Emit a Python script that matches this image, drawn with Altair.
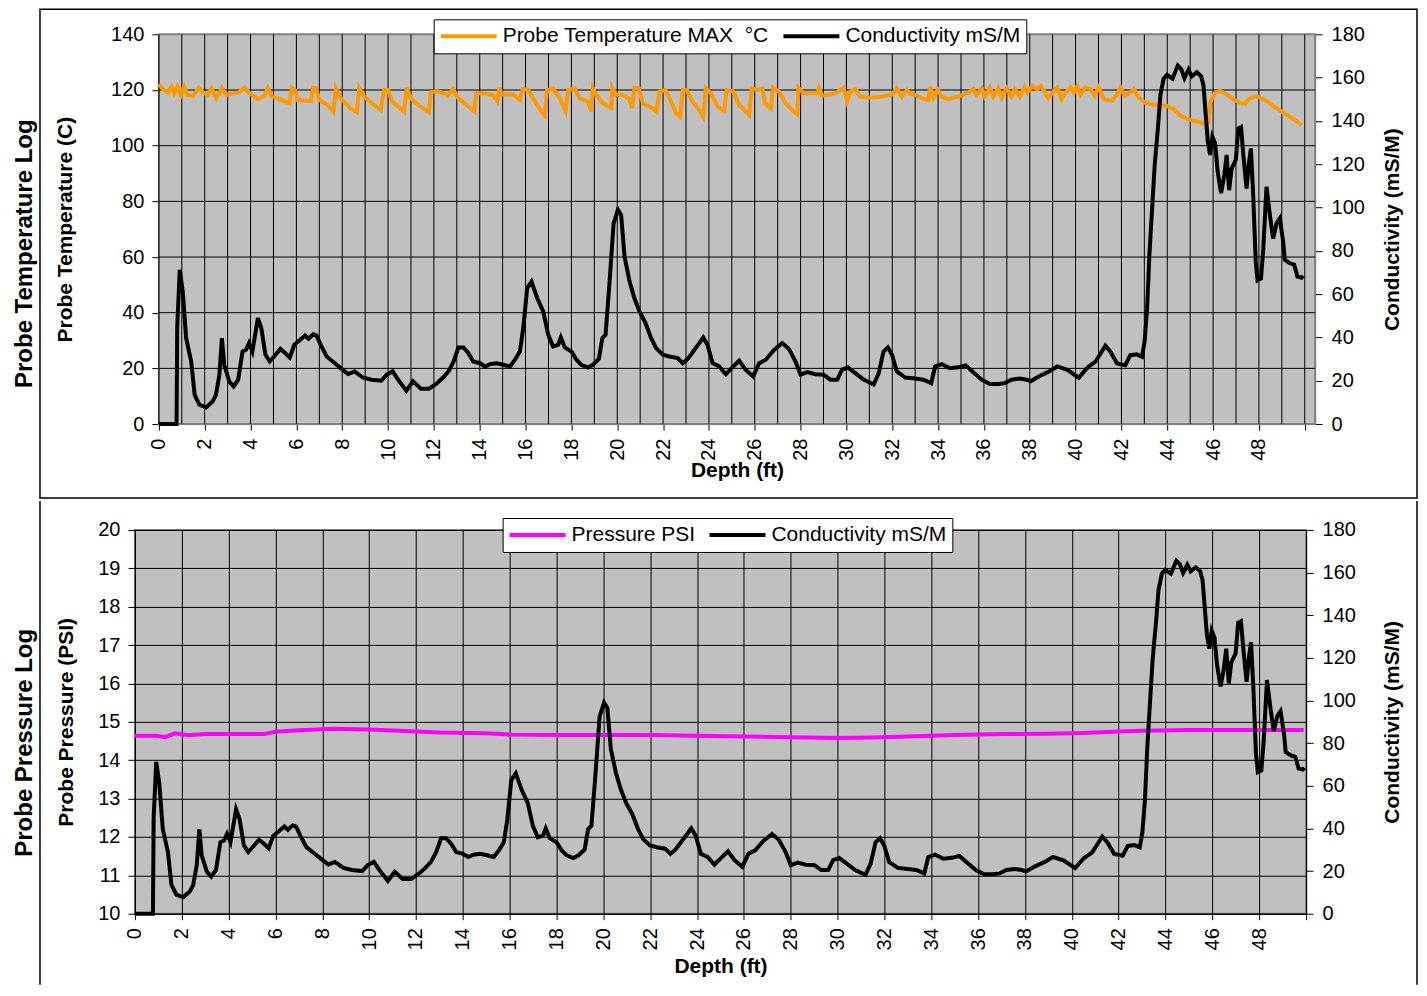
import altair as alt
import pandas as pd

FONT = "Liberation Sans"

TEMP_NAME = "Probe Temperature MAX\u00a0 \u00b0C"
COND_NAME = "Conductivity mS/M"
PRES_NAME = "Pressure PSI"

depth_ticks = list(range(0, 51))
temp_ticks = list(range(0, 141, 20))
cond_ticks = list(range(0, 181, 20))
pres_ticks = list(range(10, 21))

cond_depth = [0, 0.77, 0.8, 0.91, 1.04, 1.19, 1.41, 1.56, 1.77, 2.06, 2.35, 2.49, 2.64, 2.75, 2.85, 3.07,
              3.26, 3.46, 3.65, 3.8, 3.93, 4.08, 4.32, 4.47, 4.65, 4.84, 5.09, 5.3, 5.52, 5.71, 5.91, 6.17,
              6.38, 6.53, 6.74, 6.88, 7.06, 7.32, 7.68, 7.97, 8.26, 8.54, 8.9, 9.27, 9.7, 9.94, 10.2, 10.49,
              10.8, 11.09, 11.43, 11.79, 12.1, 12.4, 12.64, 12.86, 13.07, 13.29, 13.5, 13.72, 14.01, 14.23,
              14.45, 14.74, 15.03, 15.32, 15.54, 15.75, 15.9, 16.07, 16.26, 16.51, 16.77, 16.99, 17.2, 17.42,
              17.54, 17.71, 18.0, 18.22, 18.43, 18.72, 18.94, 19.2, 19.35, 19.49, 19.67, 19.84, 20.03, 20.17,
              20.32, 20.54, 20.75, 20.97, 21.23, 21.48, 21.7, 21.99, 22.28, 22.64, 22.86, 23.07, 23.36, 23.58,
              23.75, 23.94, 24.16, 24.45, 24.74, 24.92, 25.32, 25.6, 25.93, 26.19, 26.48, 26.84, 27.2, 27.49,
              27.78, 28.0, 28.29, 28.65, 29.01, 29.3, 29.6, 29.81, 30.07, 30.39, 30.75, 31.19, 31.41, 31.62,
              31.81, 31.99, 32.2, 32.57, 33.0, 33.36, 33.7, 33.87, 34.16, 34.52, 34.88, 35.2, 35.46, 35.9,
              36.26, 36.62, 36.91, 37.2, 37.57, 37.86, 38.04, 38.41, 38.84, 39.2, 39.64, 40.14, 40.51, 40.87,
              41.09, 41.3, 41.52, 41.81, 42.17, 42.39, 42.68, 42.9, 43.01, 43.12, 43.22, 43.33, 43.45, 43.59,
              43.7, 43.84, 43.99, 44.23, 44.46, 44.61, 44.75, 44.93, 45.07, 45.29, 45.48, 45.58, 45.68, 45.77,
              45.87, 45.97, 46.09, 46.2, 46.35, 46.49, 46.59, 46.7, 46.81, 46.99, 47.1, 47.22, 47.32, 47.46,
              47.57, 47.65, 47.75, 47.86, 47.94, 48.09, 48.19, 48.33, 48.48, 48.62, 48.77, 48.91, 49.06, 49.13,
              49.35, 49.54, 49.68, 49.86, 49.93]
cond_value = [0, 0, 45, 71.2, 61.2, 39.7, 28.9, 13.5, 8.9, 7.7, 10.5, 13.5, 22.8, 39.7, 27.4, 19.7,
              17.4, 20.5, 33.5, 34.3, 37.4, 33.5, 48.9, 44.3, 32, 28.9, 32, 34.7, 32.7, 30.7, 36.6, 38.9,
              40.9, 39.4, 41.5, 40.9, 36.6, 31.2, 28.1, 25.5, 23.1, 24.3, 21.5, 20.5, 20, 22.8, 24.3, 19.7,
              15.4, 19.7, 16.3, 16.3, 18.5, 21.5, 24.3, 28.9, 35.4, 35.4, 32.8, 28.9, 28.1, 26.6,
              27.7, 28.1, 27.4, 26.6, 29.7, 33.5, 44.3, 62.7, 65.8, 58.1, 52, 41.2, 35.8, 36.6,
              40, 35.4, 33.5, 29.7, 27.4, 26.1, 27.4, 30.1, 39.7, 41.2, 66.5, 92.6, 99, 96.5,
              77.2, 65.8, 58.1, 52, 46.8, 39.7, 35, 32, 31.2, 30.5, 28.1, 30, 34.2, 37.4,
              40, 36.6, 28.1, 26.6, 23, 25, 29.3, 25.1, 22, 28.1, 29.7, 34.2, 37.4, 34.7,
              28.9, 22.8, 24, 23, 22.8, 20.5, 20.5, 25.1, 26.1, 23.5, 20.5, 18.2, 23.5, 33.5,
              35.4, 32, 24.3, 21.5, 21, 20.5, 18.9, 26.6, 27.7, 25.8, 26.2, 27.1, 24.6, 20.5,
              18.5, 18.5, 18.9, 20.5, 21, 20.5, 19.8, 22.1, 24.3, 26.6, 25, 21.4, 26, 28.8,
              32.6, 36.2, 33.4, 28, 27.2, 31.8, 32.2, 31.1, 38, 53.3, 77.9, 97.9, 119.4, 136.4,
              151.8, 159.5, 161.3, 159.5, 165.6, 164, 159.8, 163.7, 160.6, 162.5, 160.6, 156.5, 142.7, 130.4,
              124.3, 132.7, 129.6, 116.6, 106.6, 115, 124.3, 108, 118, 122, 136.5, 137.2, 124.3, 108.8,
              121, 127.3, 105.8, 75.1, 66.4, 67.2, 81, 109.6, 96.4, 85.7, 92.7, 95, 84.1, 75.8,
              74.3, 73.6, 68.1, 67.6, 68.5]

temp_depth = [0, 0.19, 0.4, 0.55, 0.67, 0.81, 0.96, 1.1, 1.25, 1.49, 1.74, 1.93, 2.12, 2.29, 2.51, 2.75,
              2.94, 3.23, 3.48, 3.74, 3.96, 4.32, 4.61, 4.75, 4.93, 5.19, 5.7, 5.8, 5.94, 6.06, 6.64, 6.72,
              6.86, 7.0, 7.36, 7.62, 7.72, 7.94, 8.35, 8.64, 8.74, 8.96, 9.39, 9.68, 9.83, 10.0, 10.19, 10.7,
              10.81, 10.99, 11.42, 11.78, 11.86, 12.14, 12.43, 12.6, 12.83, 13.07, 13.43, 13.77, 13.84, 14.16,
              14.59, 14.77, 14.86, 14.96, 15.46, 15.75, 15.87, 16.12, 16.41, 16.7, 16.84, 16.94, 17.2, 17.49,
              17.75, 17.86, 18.14, 18.36, 18.72, 18.87, 18.94, 19.09, 19.38, 19.74, 19.78, 19.96, 20.25, 20.54,
              20.65, 20.75, 20.94, 21.12, 21.55, 21.72, 21.84, 22.1, 22.35, 22.57, 22.74, 22.86, 23.03, 23.29,
              23.58, 23.75, 23.87, 24.09, 24.38, 24.67, 24.77, 25.03, 25.1, 25.32, 25.61, 25.75, 25.87, 26.12,
              26.33, 26.45, 26.7, 26.8, 27.06, 27.35, 27.71, 27.86, 27.9, 28.14, 28.72, 28.8, 28.94, 29.52,
              29.88, 30.03, 30.17, 30.39, 30.61, 30.97, 31.55, 31.99, 32.2, 32.42, 32.64, 32.78, 33.0, 33.29,
              33.58, 33.65, 33.8, 33.99, 34.16, 34.45, 34.88, 35.32, 35.54, 35.68, 35.9, 36.04, 36.26, 36.41,
              36.62, 36.77, 36.99, 37.2, 37.35, 37.57, 37.78, 37.9, 38.12, 38.33, 38.48, 38.62, 38.81, 38.99,
              39.2, 39.39, 39.57, 39.78, 39.93, 40.07, 40.22, 40.43, 40.65, 40.84, 41.01, 41.23, 41.59, 41.81,
              41.96, 42.14, 42.39, 42.54, 42.75, 43.01, 43.33, 43.62, 43.99, 44.28, 44.57, 44.86, 45.14, 45.43,
              45.65, 45.8, 45.87, 46.09, 46.3, 46.59, 46.88, 47.17, 47.39, 47.54, 47.83, 48.04, 48.33, 48.62,
              48.99, 49.28, 49.57, 49.86]
temp_value = [122, 120.3, 119.1, 121.2, 118.8, 121.2, 118.2, 121.2, 118.2, 117.9, 120.8, 119.1, 118.2, 120.6, 117, 120.8,
              118.2, 118.8, 119.1, 120.8, 118.8, 116.7, 117.9, 120.8, 117.6, 117, 115.2, 120.8, 120, 116.4, 116, 120.8,
              120.6, 116.4, 114.6, 112.2, 120.6, 117, 113.4, 112, 120.8, 117.6, 114.6, 112.8, 120, 120, 115.8, 112.2,
              120.8, 117, 114, 112, 119.1, 119.6, 118.8, 118, 120.3, 117, 114.6, 112.2, 118.8, 118.8,
              118.2, 116, 120.8, 118.4, 118.4, 116.4, 120.3, 120, 115.8, 112.2, 110.8, 120, 120.6, 117,
              112.4, 120, 120.6, 117, 116, 112.2, 120.6, 118.2, 115.2, 113.6, 120.8, 118.2, 118.2, 116.7,
              113.4, 120.8, 120.6, 115.2, 113.4, 112.2, 119.4, 120, 115.8, 111.6, 110.4, 120, 120, 115.8,
              112.8, 110.4, 120.6, 118.8, 114, 112.4, 120, 119.6, 118.8, 114.6, 112.4, 111, 120.6, 120,
              120.6, 115.2, 113.4, 120.8, 119.4, 115.2, 112.2, 111.2, 120.8, 118.8, 118.8, 120.8, 117.9, 118.8,
              120.8, 116, 119.4, 120.3, 117.6, 117.2, 117.6, 118.4, 120.6, 117.6, 120, 118.8, 118.2, 117,
              116.4, 121.2, 117.2, 120, 117.6, 116.7, 117.6, 119.1, 120.3, 118.2, 120.6, 117.6, 120.8, 117.6,
              120.6, 117.2, 120.6, 117.6, 120.3, 117.6, 121.2, 119.1, 121.5, 120.3, 121.5, 119.7, 117, 119.1,
              120.9, 116.7, 119.1, 120.9, 119.1, 121.3, 118.2, 120.9, 120.3, 117.9, 120.9, 116.7, 116.1, 118.5,
              120.9, 117.9, 119.1, 120.3, 117.3, 115.5, 114.9, 114.6, 114.3, 113.1, 110.8, 109.6, 109, 108.4,
              107.8, 108.4, 115.5, 119.1, 119.7, 118.5, 116.7, 115.5, 114.9, 116.7, 117.7, 117.3, 116.1, 114.3,
              112.2, 110.8, 109.3, 107.4]

pres_depth = [0, 0.9, 1.3, 1.7, 2.3, 3.0, 4.0, 5.5, 6.0, 7.0, 8.5, 10.0, 11.5, 13.0, 15.0, 16.0, 18.0, 20.0,
              22.0, 24.0, 26.0, 28.0, 30.0, 31.5, 33.0, 35.0, 37.0, 39.0, 40.5, 42.0, 43.0, 45.0, 47.0, 49.9]
pres_value = [14.64, 14.64, 14.6, 14.7, 14.65, 14.68, 14.68, 14.68, 14.74, 14.78, 14.82, 14.8, 14.76, 14.72,
              14.7, 14.67, 14.66, 14.66, 14.66, 14.64, 14.62, 14.6, 14.58, 14.59, 14.62, 14.66, 14.68, 14.69,
              14.71, 14.75, 14.77, 14.79, 14.79, 14.79]

cond_df = pd.DataFrame({"depth": cond_depth, "value": cond_value, "series": COND_NAME})
temp_df = pd.DataFrame({"depth": temp_depth, "value": temp_value, "series": TEMP_NAME})
pres_df = pd.DataFrame({"depth": pres_depth, "value": pres_value, "series": PRES_NAME})
vgrid_df = pd.DataFrame({"depth": depth_ticks})
hgrid_df = pd.DataFrame({"t": temp_ticks[1:-1]})

LABEL_EXPR = "datum.value % 2 == 0 && datum.value <= 48 ? datum.label : ''"
LW = 4


def x_axis(title_y, grid):
    return alt.Axis(values=depth_ticks, labelExpr=LABEL_EXPR, format="d", labelAngle=-90,
                    labelFontSize=20, labelPadding=8, labelOverlap=False, tickSize=6,
                    tickColor="black", domainColor="black", grid=grid, gridColor="black",
                    gridWidth=1, title="Depth (ft)", titleY=title_y, titleBaseline="top",
                    titleFontSize=21, titleFontWeight="bold")


def legend(x, y):
    return alt.Legend(title=None, orient="none", legendX=x, legendY=y, direction="horizontal",
                      symbolType="stroke", symbolStrokeWidth=4, symbolSize=3136, clipHeight=24,
                      labelFontSize=21, labelOffset=4, columnPadding=12, padding=5, labelLimit=500,
                      fillColor="white", strokeColor="black", labelColor="black")


one_row = alt.Data(values=[{"k": 0}])

# ---------- top panel (view origin shared with the bottom panel; plot area starts 24px in) ----------
TW, TH, INSET = 1181, 390, 24
top_x_scale = alt.Scale(domain=[0, 50.45], range=[INSET, TW], nice=False, zero=False)
top_x = alt.X("depth:Q", scale=top_x_scale, axis=x_axis(35, False))

top_bg = alt.Chart(one_row).mark_rect(fill="#C0C0C0", stroke="#808080", strokeWidth=2).encode(
    x=alt.value(INSET), x2=alt.value(TW), y=alt.value(0), y2=alt.value(TH))
top_vgrid = alt.Chart(vgrid_df).mark_rule(color="black", strokeWidth=1).encode(
    x=top_x, y=alt.value(0), y2=alt.value(TH))
top_hgrid = alt.Chart(hgrid_df).mark_rule(color="black", strokeWidth=1).encode(
    y=alt.Y("t:Q", scale=alt.Scale(domain=[0, 140], nice=False), axis=None),
    x=alt.value(INSET), x2=alt.value(TW))
temp_line = alt.Chart(temp_df).mark_line(strokeWidth=LW).encode(
    x=top_x,
    y=alt.Y("value:Q", scale=alt.Scale(domain=[0, 140], nice=False),
            axis=alt.Axis(orient="left", offset=-INSET, values=temp_ticks, title="Probe Temperature (C)",
                          titlePadding=35, titleFontSize=21, titleFontWeight="bold", labelFontSize=20,
                          labelPadding=8, tickSize=7, grid=False, domainColor="black", tickColor="black")),
    color=alt.Color("series:N", scale=alt.Scale(domain=[TEMP_NAME, COND_NAME], range=["#FF9900", "#000000"]),
                    legend=legend(299, -15)),
)
cond_top = alt.Chart(cond_df).mark_line(strokeWidth=LW).encode(
    x=alt.X("depth:Q"),
    y=alt.Y("value:Q", scale=alt.Scale(domain=[0, 180], nice=False),
            axis=alt.Axis(orient="right", values=cond_ticks, title="Conductivity (mS/M)",
                          titleAngle=270, titleBaseline="top", titlePadding=17, titleFontSize=21,
                          titleFontWeight="bold", labelFontSize=20, labelPadding=9, tickSize=7, grid=False,
                          domainColor="black", tickColor="black")),
    color=alt.Color("series:N"),
)
frame_top = alt.Chart(one_row).mark_rect(filled=False, stroke="black", strokeWidth=1.5).encode(
    x=alt.value(-95), x2=alt.value(1283), y=alt.value(-25), y2=alt.value(464))

top = alt.layer(top_bg, top_vgrid, top_hgrid, temp_line, cond_top, frame_top).resolve_scale(
    y="independent").properties(
    width=TW, height=TH,
    view=alt.ViewBackground(fill="transparent", stroke="transparent", strokeWidth=0),
    title=alt.TitleParams("Probe Temperature Log", orient="left", frame="bounds", anchor="middle",
                          fontSize=24, fontWeight="bold", font=FONT, offset=2, color="black"))

# ---------- bottom panel ----------
BW, BH = 1172, 384
pres_line = alt.Chart(pres_df).mark_line(strokeWidth=LW).encode(
    x=alt.X("depth:Q", scale=alt.Scale(domain=[0, 50], nice=False, zero=False), axis=x_axis(42, True)),
    y=alt.Y("value:Q", scale=alt.Scale(domain=[10, 20], nice=False, zero=False),
            axis=alt.Axis(orient="left", values=pres_ticks, title="Probe Pressure (PSI)",
                          titlePadding=21, titleFontSize=21, titleFontWeight="bold", labelFontSize=20,
                          labelPadding=8, tickSize=7, grid=True, gridColor="black", gridWidth=1,
                          domainColor="black", tickColor="black")),
    color=alt.Color("series:N", scale=alt.Scale(domain=[PRES_NAME, COND_NAME], range=["#FF00FF", "#000000"]),
                    legend=legend(368, -12)),
)
cond_bot = alt.Chart(cond_df).mark_line(strokeWidth=LW).encode(
    x=alt.X("depth:Q"),
    y=alt.Y("value:Q", scale=alt.Scale(domain=[0, 180], nice=False),
            axis=alt.Axis(orient="right", values=cond_ticks, title="Conductivity (mS/M)",
                          titleAngle=270, titleBaseline="top", titlePadding=26, titleFontSize=21,
                          titleFontWeight="bold", labelFontSize=20, labelPadding=9, tickSize=7, grid=False,
                          domainColor="black", tickColor="black")),
    color=alt.Color("series:N"),
)
edge_left = alt.Chart(one_row).mark_rule(stroke="black", strokeWidth=1.5).encode(
    x=alt.value(-95), y=alt.value(-29), y2=alt.value(455))
edge_right = alt.Chart(one_row).mark_rule(stroke="black", strokeWidth=1.5).encode(
    x=alt.value(1283), y=alt.value(-29), y2=alt.value(455))

bottom = alt.layer(pres_line, cond_bot, edge_left, edge_right).resolve_scale(y="independent").properties(
    width=BW, height=BH,
    view=alt.ViewBackground(fill="#C0C0C0", stroke="#808080", strokeWidth=2),
    title=alt.TitleParams("Probe Pressure Log", orient="left", frame="bounds", anchor="middle",
                          fontSize=24, fontWeight="bold", font=FONT, offset=2, color="black"))

chart = alt.ConcatChart(concat=[top, bottom], columns=1, spacing=0, bounds="full").resolve_scale(
    color="independent", x="independent").properties(
    padding={"left": 4, "top": 0, "right": 0, "bottom": 0}).configure(font=FONT).configure_axis(
    labelFont=FONT, titleFont=FONT, labelColor="black", titleColor="black").configure_legend(
    labelFont=FONT)

chart.save("out.html", embed_options={"renderer": "svg", "actions": False})
